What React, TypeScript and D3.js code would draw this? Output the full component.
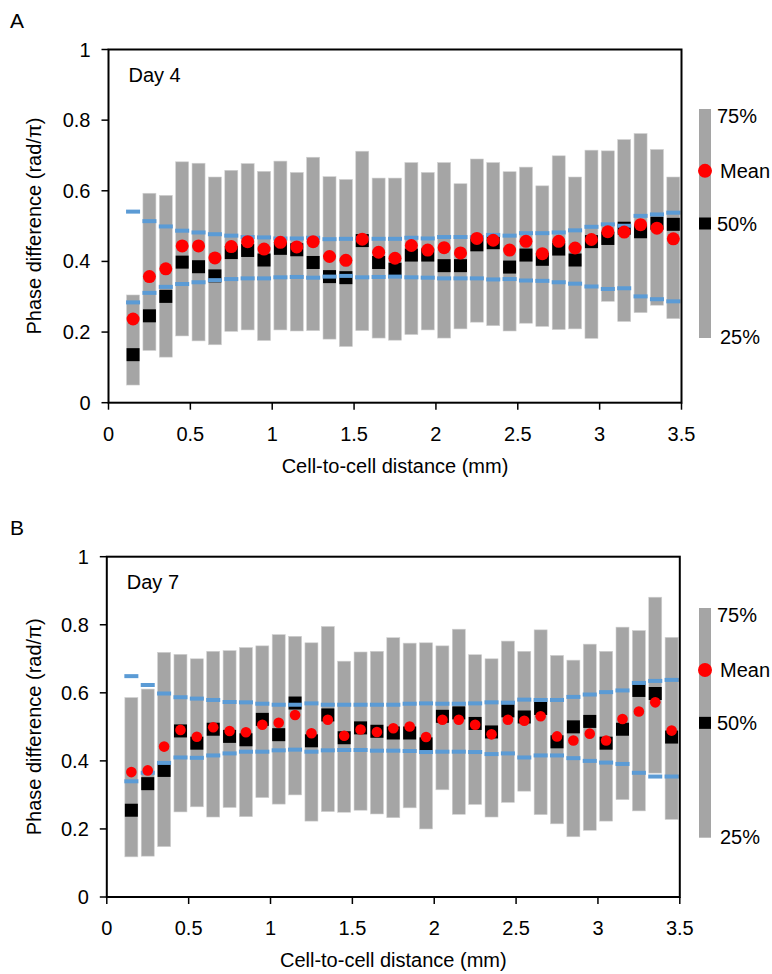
import React from "react";
import * as d3 from "d3";

// Bin centres (mm)
const distances = [
  0.15, 0.25, 0.35, 0.45, 0.55, 0.65, 0.75, 0.85, 0.95, 1.05, 1.15, 1.25,
  1.35, 1.45, 1.55, 1.65, 1.75, 1.85, 1.95, 2.05, 2.15, 2.25, 2.35, 2.45,
  2.55, 2.65, 2.75, 2.85, 2.95, 3.05, 3.15, 3.25, 3.35, 3.45,
];
const xTicks = [0, 0.5, 1, 1.5, 2, 2.5, 3, 3.5];
const yTicks = [0, 0.2, 0.4, 0.6, 0.8, 1];

// Day 4
const day4Q75 = [
  0.305, 0.593, 0.587, 0.682, 0.678, 0.639, 0.658, 0.677, 0.655, 0.684, 0.652,
  0.695, 0.64, 0.632, 0.712, 0.636, 0.636, 0.68, 0.652, 0.68, 0.62, 0.69, 0.68,
  0.654, 0.667, 0.614, 0.699, 0.639, 0.715, 0.713, 0.745, 0.762, 0.717, 0.639,
];
const day4Q25 = [
  0.05, 0.148, 0.129, 0.189, 0.175, 0.164, 0.202, 0.206, 0.176, 0.206, 0.203,
  0.204, 0.18, 0.159, 0.204, 0.183, 0.177, 0.193, 0.206, 0.183, 0.209, 0.228,
  0.218, 0.203, 0.225, 0.216, 0.207, 0.209, 0.182, 0.287, 0.23, 0.255, 0.276, 0.238,
];
const day4Median = [
  0.136, 0.246, 0.301, 0.398, 0.385, 0.359, 0.425, 0.431, 0.404, 0.437, 0.433,
  0.397, 0.357, 0.354, 0.459, 0.397, 0.378, 0.418, 0.418, 0.388, 0.388, 0.447,
  0.453, 0.384, 0.418, 0.406, 0.435, 0.404, 0.456, 0.465, 0.494, 0.484, 0.508, 0.505,
];
const day4Mean = [
  0.237, 0.357, 0.379, 0.444, 0.444, 0.41, 0.442, 0.456, 0.435, 0.454, 0.441,
  0.456, 0.414, 0.403, 0.463, 0.426, 0.409, 0.445, 0.432, 0.439, 0.424, 0.465,
  0.46, 0.432, 0.457, 0.422, 0.457, 0.438, 0.462, 0.484, 0.483, 0.504, 0.494, 0.464,
];
const day4Upper = [
  0.541, 0.514, 0.499, 0.487, 0.482, 0.477, 0.473, 0.469, 0.468, 0.465, 0.465,
  0.467, 0.463, 0.464, 0.465, 0.464, 0.464, 0.467, 0.465, 0.469, 0.469, 0.469,
  0.475, 0.473, 0.48, 0.48, 0.482, 0.488, 0.498, 0.505, 0.501, 0.529, 0.533, 0.538,
];
const day4Lower = [
  0.284, 0.311, 0.328, 0.336, 0.341, 0.347, 0.35, 0.352, 0.352, 0.355, 0.356,
  0.354, 0.357, 0.359, 0.355, 0.356, 0.357, 0.355, 0.354, 0.352, 0.352, 0.352,
  0.349, 0.35, 0.346, 0.345, 0.341, 0.337, 0.329, 0.322, 0.324, 0.301, 0.293, 0.287,
];

// Day 7
const day7Q75 = [
  0.586, 0.611, 0.719, 0.713, 0.7, 0.722, 0.724, 0.733, 0.738, 0.771, 0.766,
  0.747, 0.795, 0.693, 0.72, 0.722, 0.762, 0.746, 0.747, 0.738, 0.787, 0.712,
  0.7, 0.752, 0.722, 0.785, 0.71, 0.696, 0.743, 0.722, 0.793, 0.783, 0.881, 0.763,
];
const day7Q25 = [
  0.118, 0.12, 0.148, 0.25, 0.265, 0.235, 0.263, 0.236, 0.292, 0.273, 0.3,
  0.223, 0.251, 0.249, 0.255, 0.244, 0.233, 0.262, 0.2, 0.315, 0.243, 0.272,
  0.235, 0.278, 0.311, 0.242, 0.215, 0.177, 0.196, 0.223, 0.286, 0.253, 0.364, 0.228,
];
const day7Median = [
  0.255, 0.333, 0.372, 0.488, 0.452, 0.493, 0.472, 0.462, 0.522, 0.477, 0.57,
  0.459, 0.535, 0.468, 0.497, 0.487, 0.482, 0.482, 0.45, 0.531, 0.541, 0.51,
  0.485, 0.547, 0.529, 0.554, 0.456, 0.5, 0.516, 0.452, 0.493, 0.607, 0.598, 0.47,
];
const day7Mean = [
  0.367, 0.372, 0.442, 0.491, 0.471, 0.499, 0.488, 0.484, 0.506, 0.512, 0.535,
  0.481, 0.521, 0.474, 0.492, 0.485, 0.496, 0.501, 0.47, 0.521, 0.521, 0.506,
  0.478, 0.521, 0.518, 0.531, 0.472, 0.46, 0.48, 0.46, 0.523, 0.545, 0.572, 0.489,
];
const day7Upper = [
  0.649, 0.623, 0.598, 0.587, 0.583, 0.579, 0.573, 0.572, 0.568, 0.565, 0.565,
  0.569, 0.565, 0.565, 0.565, 0.565, 0.565, 0.568, 0.569, 0.568, 0.568, 0.569,
  0.572, 0.571, 0.58, 0.579, 0.579, 0.588, 0.595, 0.602, 0.607, 0.629, 0.635, 0.638,
];
const day7Lower = [
  0.34, 0.365, 0.394, 0.41, 0.409, 0.416, 0.422, 0.427, 0.427, 0.431, 0.433,
  0.427, 0.431, 0.432, 0.432, 0.43, 0.43, 0.429, 0.426, 0.427, 0.427, 0.426,
  0.42, 0.422, 0.41, 0.416, 0.416, 0.408, 0.4, 0.395, 0.391, 0.365, 0.354, 0.354,
];

const legendLabels = ["75%", "Mean", "50%", "25%"];

const FONT = "'Liberation Sans', Arial, sans-serif";
const GREY = "#a5a5a5";
const BLUE = "#5b9bd5";
const RED = "#ff0000";

type PanelProps = {
  letter: string;
  day: string;
  q75: number[];
  q25: number[];
  median: number[];
  mean: number[];
  upper: number[];
  lower: number[];
  left: number;
  right: number;
  top: number;
  bottom: number;
  meanR: number;
  legendTop: number;
  legendBottom: number;
};

const Panel = (p: PanelProps) => {
  const x = d3.scaleLinear().domain([0, 3.5]).range([p.left, p.right]);
  const y = d3.scaleLinear().domain([0, 1]).range([p.bottom, p.top]);
  const barW = 13;
  const sq = 13;
  const dashW = 14;

  // legend: a little scale from 25% to 75% along the sample bar
  const ly = d3.scaleLinear().domain([0.25, 0.75]).range([p.legendBottom, p.legendTop]);
  const lx = 705;

  return (
    <g fontFamily={FONT} fill="#000">
      <text x={10} y={p.top - 22} fontSize={21}>{p.letter}</text>

      {/* interquartile bars */}
      {distances.map((d, i) => (
        <rect
          key={"b" + i}
          x={x(d) - barW / 2}
          y={y(p.q75[i])}
          width={barW}
          height={y(p.q25[i]) - y(p.q75[i])}
          fill={GREY}
          stroke="#d0d0d0"
          strokeWidth={0.6}
        />
      ))}

      {/* medians */}
      {distances.map((d, i) => (
        <rect
          key={"m" + i}
          x={x(d) - sq / 2}
          y={y(p.median[i]) - sq / 2}
          width={sq}
          height={sq}
          fill="#000"
        />
      ))}

      {/* bounds */}
      {distances.map((d, i) => (
        <g key={"u" + i}>
          <rect x={x(d) - dashW / 2} y={y(p.upper[i]) - 2} width={dashW} height={4} fill={BLUE} />
          <rect x={x(d) - dashW / 2} y={y(p.lower[i]) - 2} width={dashW} height={4} fill={BLUE} />
        </g>
      ))}

      {/* means */}
      {distances.map((d, i) => (
        <circle key={"c" + i} cx={x(d)} cy={y(p.mean[i])} r={p.meanR} fill={RED} />
      ))}

      {/* frame */}
      <rect
        x={p.left}
        y={p.top}
        width={p.right - p.left}
        height={p.bottom - p.top}
        fill="none"
        stroke="#000"
        strokeWidth={2}
      />

      <text x={p.left + 20} y={p.top + 32} fontSize={20}>{p.day}</text>

      {/* y axis */}
      {yTicks.map((t) => (
        <g key={"yt" + t}>
          <line x1={p.left - 7} x2={p.left} y1={y(t)} y2={y(t)} stroke="#000" strokeWidth={1.5} />
          <text x={p.left - 18} y={y(t) + 7} fontSize={20} textAnchor="end">
            {String(t)}
          </text>
        </g>
      ))}
      <text
        transform={`translate(41,${(p.top + p.bottom) / 2}) rotate(-90)`}
        fontSize={20}
        textAnchor="middle"
      >
        Phase difference (rad/π)
      </text>

      {/* x axis */}
      {xTicks.map((t) => (
        <g key={"xt" + t}>
          <line x1={x(t)} x2={x(t)} y1={p.bottom} y2={p.bottom + 7} stroke="#000" strokeWidth={1.5} />
          <text x={x(t)} y={p.bottom + 38} fontSize={20} textAnchor="middle">
            {String(t)}
          </text>
        </g>
      ))}
      <text x={(p.left + p.right) / 2} y={p.bottom + 70} fontSize={20} textAnchor="middle">
        Cell-to-cell distance (mm)
      </text>

      {/* legend */}
      <rect x={lx - 6} y={ly(0.75)} width={12} height={ly(0.25) - ly(0.75)} fill={GREY} />
      <circle cx={lx} cy={ly(0.615)} r={7} fill={RED} />
      <rect x={lx - 6} y={ly(0.5) - 6} width={12} height={12} fill="#000" />
      <text x={717} y={ly(0.75) + 14} fontSize={20}>{legendLabels[0]}</text>
      <text x={720} y={ly(0.615) + 7} fontSize={20}>{legendLabels[1]}</text>
      <text x={717} y={ly(0.5) + 7} fontSize={20}>{legendLabels[2]}</text>
      <text x={720} y={ly(0.25) + 6} fontSize={20}>{legendLabels[3]}</text>
    </g>
  );
};

export default function App() {
  return (
    <svg
      width={772}
      height={974}
      style={{ position: "absolute", left: 0, top: 0, background: "#fff" }}
    >
      <rect width={772} height={974} fill="#fff" />
      <Panel
        letter="A"
        day="Day 4"
        q75={day4Q75}
        q25={day4Q25}
        median={day4Median}
        mean={day4Mean}
        upper={day4Upper}
        lower={day4Lower}
        left={108.5}
        right={681.5}
        top={49.5}
        bottom={402.7}
        meanR={6.5}
        legendTop={109}
        legendBottom={338}
      />
      <Panel
        letter="B"
        day="Day 7"
        q75={day7Q75}
        q25={day7Q25}
        median={day7Median}
        mean={day7Mean}
        upper={day7Upper}
        lower={day7Lower}
        left={106.8}
        right={679.8}
        top={556.7}
        bottom={897}
        meanR={5.3}
        legendTop={608}
        legendBottom={837.7}
      />
    </svg>
  );
}
